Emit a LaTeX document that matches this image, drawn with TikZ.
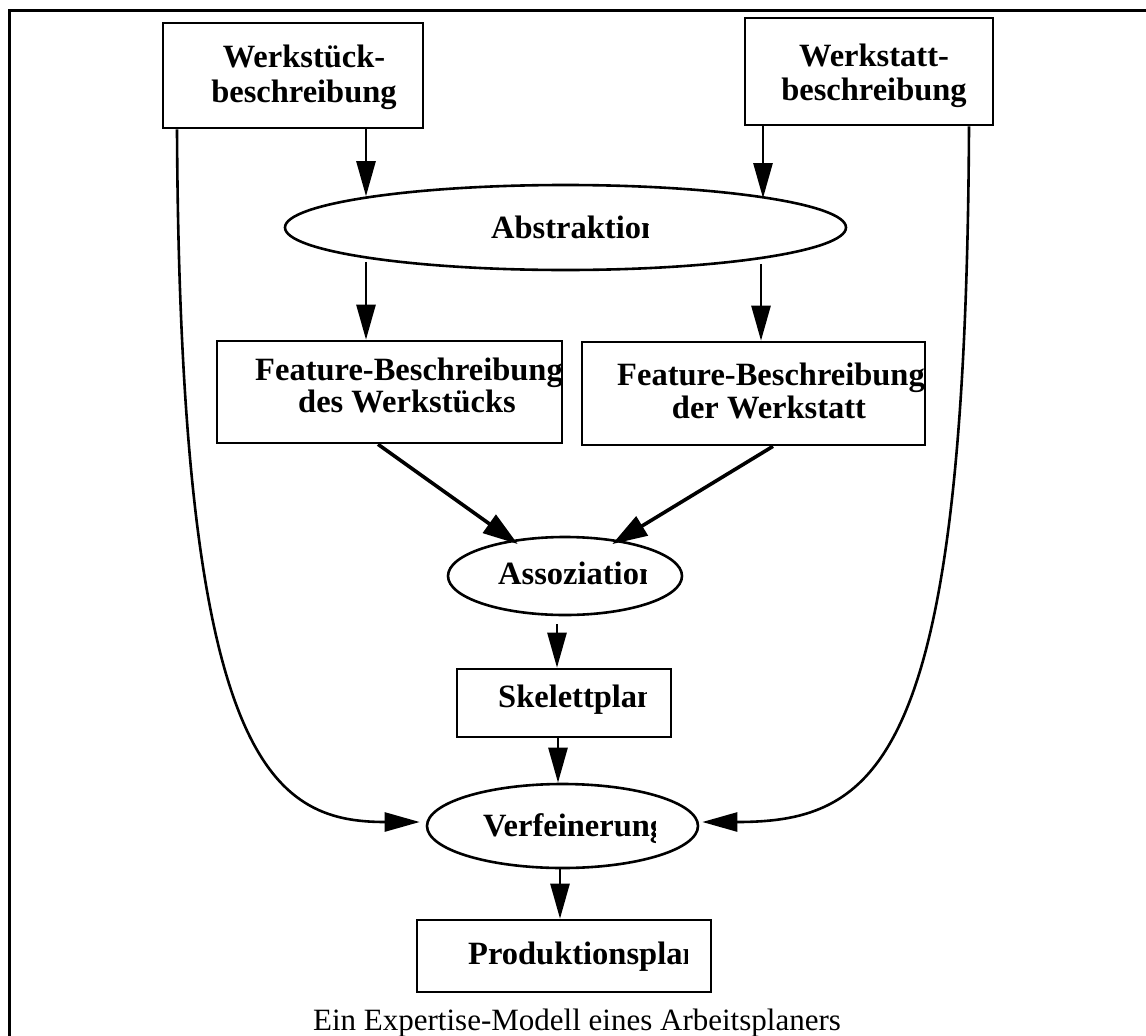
\documentclass[tikz,border=0pt]{standalone}
\usepackage{fontspec}
\setmainfont{Liberation Serif}
\usetikzlibrary{arrows.meta,shapes.geometric}

\begin{document}
\begin{tikzpicture}[x=1pt,y=-1pt,
  box/.style={draw, line width=2.6pt, inner sep=0pt},
  oval/.style={draw, ellipse, line width=2.6pt, inner sep=0pt},
  lbl/.style={font=\fontsize{32.5}{34}\selectfont\bfseries, inner sep=0pt, anchor=base},
  arr/.style={line width=2.6pt, -{Triangle[length=35pt,width=19pt]}},
  thickarr/.style={line width=3.6pt, -{Triangle[length=35pt,width=22pt]}},
  frameline/.style={line width=3pt, line join=miter}]

\useasboundingbox (0,0) rectangle (1146,1036);

% frame (top and left edges)
\draw[frameline] (1160,10) -- (9,10) -- (9,1050);

% boxes and ellipses
\node[box, minimum width=260pt, minimum height=105pt] (ws) at (293,75.5) {};
\node[box, minimum width=248pt, minimum height=107pt] (wt) at (869,71.5) {};
\node[oval, minimum width=561pt, minimum height=85pt] (abs) at (565.5,227.5) {};
\node[box, minimum width=345pt, minimum height=102pt] (fw) at (389.5,392) {};
\node[box, minimum width=343pt, minimum height=103pt] (ft) at (753.5,393.5) {};
\node[oval, minimum width=234pt, minimum height=78pt] (asz) at (565,576) {};
\node[box, minimum width=214pt, minimum height=68pt] (sk) at (564,703) {};
\node[oval, minimum width=271pt, minimum height=84pt] (vf) at (562.5,826) {};
\node[box, minimum width=294pt, minimum height=72pt] (pp) at (564,956) {};

% labels
\node[lbl] (wsa) at (304,67) {Werkstück-};
\node[lbl] (wsb) at (304,102) {beschreibung};
\node[lbl] (wta) at (874,66) {Werkstatt-};
\node[lbl] (wtb) at (874,100) {beschreibung};
\node[lbl] (fwa) at (409,380) {Feature-Beschreibung};
\node[lbl] (fwb) at (407,412) {des Werkstücks};
\node[lbl] (fta) at (771,385) {Feature-Beschreibung};
\node[lbl] (ftb) at (769,418) {der Werkstatt};

\begin{scope}
  \clip (470,200) rectangle (648,260);
  \node[lbl, anchor=base west] (abst) at (491,238) {Abstraktion};
\end{scope}
\begin{scope}
  \clip (480,550) rectangle (646,600);
  \node[lbl, anchor=base west] (aszt) at (498,584) {Assoziation};
\end{scope}
\begin{scope}
  \clip (480,675) rectangle (646,725);
  \node[lbl, anchor=base west] (skt) at (498,707) {Skelettplan};
\end{scope}
\begin{scope}
  \clip (470,800) rectangle (655,850);
  \node[lbl, anchor=base west] (vft) at (483,836) {Verfeinerung};
\end{scope}
\begin{scope}
  \clip (450,930) rectangle (687,985);
  \node[lbl, anchor=base west] (ppt) at (468,964) {Produktionsplan};
\end{scope}

\node[font=\fontsize{31}{34}\selectfont, inner sep=0pt, anchor=base] (cap) at (577,1030)
  {Ein Expertise-Modell eines Arbeitsplaners};

% anchor points of the vertical connectors
\coordinate (wsx) at ([xshift=73pt]ws.south);
\coordinate (wtx) at ([xshift=-106pt]wt.south);
\coordinate (fwx) at ([xshift=-23.5pt]fw.north);
\coordinate (ftx) at ([xshift=7.5pt]ft.north);

% connectors
\draw[arr] (wsx) -- (wsx |- abs.171.4);
\draw[arr] (wtx) -- (wtx |- abs.8.6);
\draw[arr] ([yshift=-5pt]fwx |- abs.188.6) -- (fwx);
\draw[arr] ([yshift=-5pt]ftx |- abs.351.4) -- (ftx);
\draw[thickarr] ([xshift=-11.5pt]fw.south) -- ([yshift=-5pt]asz.142);
\draw[thickarr] ([xshift=19.5pt]ft.south) -- ([yshift=-5pt]asz.38);
\draw[arr] ([xshift=-8pt,yshift=-8pt]asz.south) -- ([xshift=-7pt]sk.north);
\draw[arr] ([xshift=-6pt]sk.south) -- ([xshift=-6pt]sk.south |- vf.north);
\draw[arr] ([xshift=-2.5pt]vf.south) -- ([xshift=-2.5pt]vf.south |- pp.north);

\draw[arr] ([xshift=-116pt]ws.south) .. controls (180,760) and (270,822) .. ([xshift=-6pt,yshift=4pt]vf.west);
\draw[arr] ([xshift=100pt]wt.south) .. controls (966,760) and (880,822) .. ([xshift=3pt,yshift=4pt]vf.east);

\end{tikzpicture}
\end{document}
